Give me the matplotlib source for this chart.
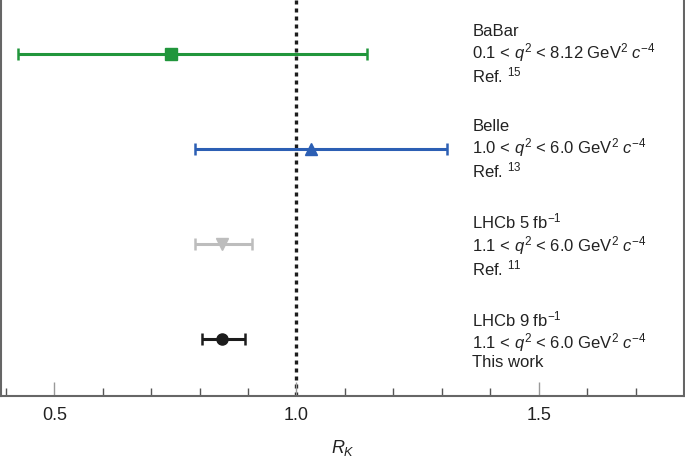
import matplotlib
matplotlib.use("Agg")
import matplotlib.pyplot as plt

plt.rcParams['font.family'] = ['Liberation Sans', 'DejaVu Sans']
plt.rcParams['mathtext.fontset'] = 'custom'
plt.rcParams['mathtext.rm'] = 'Liberation Sans'
plt.rcParams['mathtext.it'] = 'Liberation Sans:italic'
plt.rcParams['mathtext.bf'] = 'Liberation Sans:bold'

# measurements, top to bottom
experiments = ['BaBar', 'Belle', 'LHCb 5 fb$^{-1}$', 'LHCb 9 fb$^{-1}$']
q2_ranges = ['0.1 < $q^2$ < 8.12 GeV$^2$ $c^{-4}$',
             '1.0 < $q^2$ < 6.0 GeV$^2$ $c^{-4}$',
             '1.1 < $q^2$ < 6.0 GeV$^2$ $c^{-4}$',
             '1.1 < $q^2$ < 6.0 GeV$^2$ $c^{-4}$']
refs = ['Ref. $^{15}$', 'Ref. $^{13}$', 'Ref. $^{11}$', 'This work']
rk = [0.74, 1.03, 0.846, 0.846]
err_lo = [0.315, 0.24, 0.055, 0.041]
err_hi = [0.405, 0.28, 0.063, 0.048]
ypos = [4, 3, 2, 1]

colors = ['#21963c', '#2c5fb4', '#bdbdbd', '#1c1c1c']
markers = ['s', '^', 'v', 'o']

fig = plt.figure(figsize=(6.85, 4.64), dpi=100)
ax = fig.add_axes([1/685, 1 - 397/464, 683/685, 397/464])

ax.axvline(1.0, color='#1c1c1c', lw=2.4, ls=(0, (1.2, 1.2)), zorder=1)

for i in range(len(rk)):
    ax.errorbar(rk[i], ypos[i], xerr=[[err_lo[i]], [err_hi[i]]],
                fmt=markers[i], color=colors[i], ms=8, lw=2.2,
                capsize=4, capthick=1.8, zorder=3)
    txt = experiments[i] + '\n' + q2_ranges[i] + '\n' + refs[i]
    ax.text(1.363, ypos[i], txt, fontsize=12, va='center', ha='left',
            color='#222222', linespacing=1.1)

ax.set_xlim(0.39, 1.80)
ax.set_ylim(0.4, 4.58)
ax.set_yticks([])
ax.set_xticks([0.5, 1.0, 1.5])
ax.set_xticklabels(['0.5', '1.0', '1.5'])
ax.set_xticks([0.4, 0.6, 0.7, 0.8, 0.9, 1.1, 1.2, 1.3, 1.4, 1.6, 1.7], minor=True)
ax.tick_params(axis='x', which='major', direction='in', length=10, width=1,
               color='#999999', labelsize=13, pad=7, labelcolor='#222222')
ax.tick_params(axis='x', which='minor', direction='in', length=6, width=1,
               color='#555555')
ax.spines['top'].set_visible(False)
for s in ['left', 'right', 'bottom']:
    ax.spines[s].set_color('#666666')
    ax.spines[s].set_linewidth(1.5)

ax.set_xlabel('$R_K$', fontsize=13, labelpad=10, color='#222222')

fig.savefig('out.png', dpi=100)
